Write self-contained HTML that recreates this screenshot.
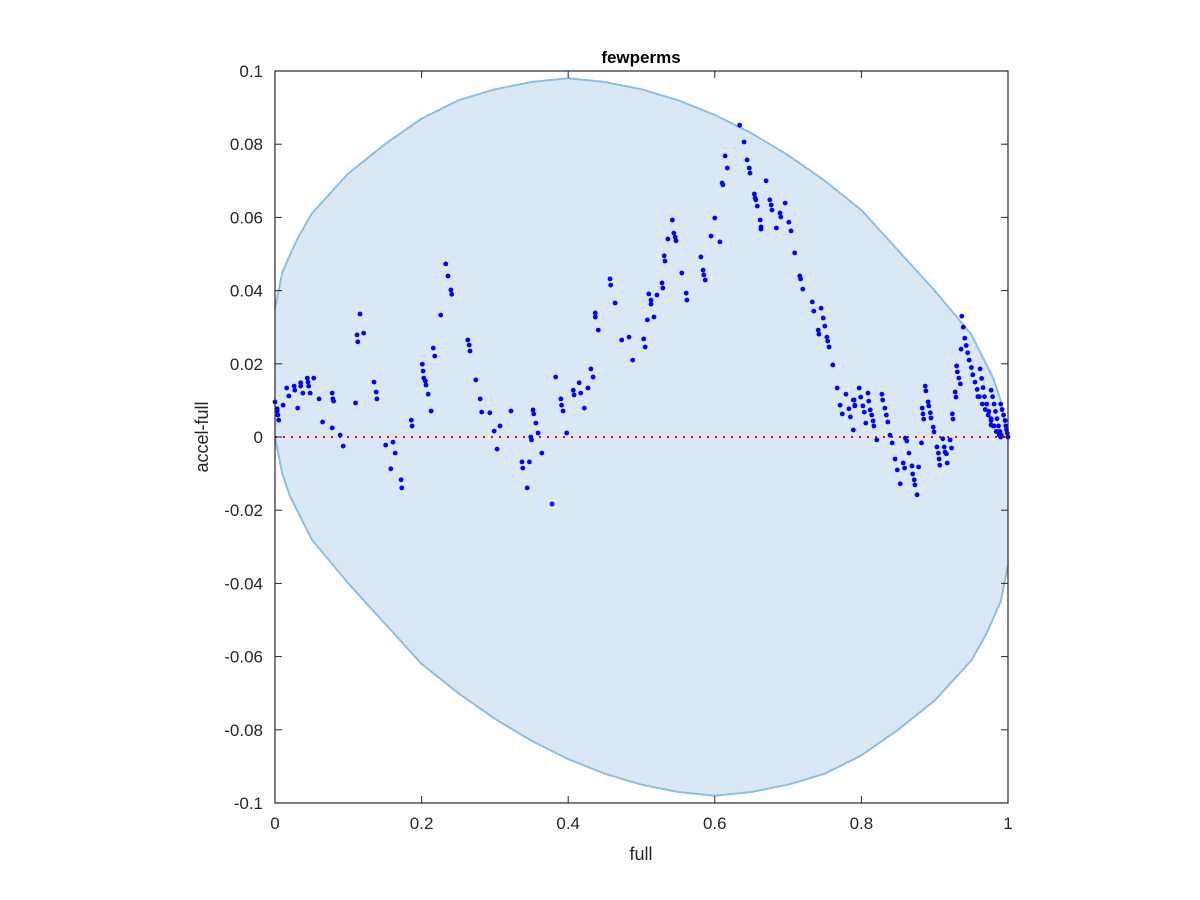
<!DOCTYPE html>
<html><head><meta charset="utf-8"><style>
html,body{margin:0;padding:0;background:#fff;}
svg{display:block;font-family:"Liberation Sans",sans-serif;}
</style></head><body>
<svg id="chart" width="1200" height="900" viewBox="0 0 1200 900" xmlns="http://www.w3.org/2000/svg">
<rect width="1200" height="900" fill="#fff"/>
<g id="plot"></g>
<text x="641" y="63" font-size="17" font-weight="bold" text-anchor="middle">fewperms</text>
<text x="641" y="860" font-size="18" text-anchor="middle" fill="#262626">full</text>
<text x="0" y="0" font-size="18" text-anchor="middle" fill="#262626" transform="translate(208,437) rotate(-90)">accel-full</text>
</svg>
<script>
const xTicks=[0,0.2,0.4,0.6,0.8,1];
const xTickLabels=["0","0.2","0.4","0.6","0.8","1"];
const yTicks=[0.1,0.08,0.06,0.04,0.02,0,-0.02,-0.04,-0.06,-0.08,-0.1];
const yTickLabels=["0.1","0.08","0.06","0.04","0.02","0","-0.02","-0.04","-0.06","-0.08","-0.1"];
const boundX=[0,0.01,0.03,0.05,0.1,0.15,0.2,0.25,0.3,0.35,0.4,0.45,0.5,0.55,0.6,0.65,0.7,0.75,0.8,0.85,0.9,0.95,0.98,0.99,1];
const boundUpper=[0.035,0.045,0.054,0.061,0.072,0.080,0.087,0.092,0.095,0.097,0.098,0.097,0.095,0.092,0.088,0.083,0.077,0.070,0.062,0.051,0.040,0.028,0.016,0.010,0];
const ptX=[0,.003,.003,.004,.005,.011,.016,.019,.026,.027,.031,.035,.035,.038,.044,.045,.046,.048,.053,.060,.065,.078,.079,.080,.078,.089,.093,.110,.112,.113,.116,.121,.135,.138,.139,.151,.161,.158,.164,.172,.173,.186,.187,.201,.202,.203,.205,.206,.209,.213,.216,.218,.226,.233,.236,.240,.241,.263,.265,.266,.274,.280,.282,.293,.299,.303,.307,.322,.337,.338,.344,.347,.349,.350,.352,.353,.356,.359,.364,.378,.383,.390,.391,.393,.398,
.634,.640,.614,.617,.610,.611,.644,.647,.648,.670,.654,.655,.656,.658,.675,.677,.678,.696,.689,.690,.701,.704,.662,.663,.663,.684,.600,.595,.607,.542,.544,.546,.547,.536,.531,.532,.528,.529,.555,.561,.562,.581,.584,.585,.587,.510,.513,.513,.521,.508,.517,.503,.505,.457,.458,.464,.437,.437,.441,.473,.483,.488,.431,.434,.427,.415,.407,.408,.417,.422,
.709,.716,.717,.720,.733,.735,.745,.748,.750,.741,.742,.753,.754,.756,.761,.767,.779,.771,.790,.791,
.774,.783,.785,.789,.789,.791,.797,.799,.802,.804,.806,.809,.810,.812,.814,.816,.817,.821,.828,.829,.832,.834,.836,.839,.842,.846,.849,.853,.857,.859,.860,.862,.865,.869,.870,.872,.873,.876,.878,.882,.887,.888,.891,.892,.883,.884,.885,.894,.895,.898,.899,.903,.905,.906,.907,.911,.913,.914,.916,.917,.921,.923,.924,.925,.928,.929,.930,.931,.933,.935,.936,
.937,.939,.941,.943,.945,.947,.950,.952,.955,.958,.961,.965,.969,.973,.977,.981,.985,.990,
.962,.964,.966,.968,.971,.974,.977,.980,.984,.988,
.977,.979,.981,.983,.985,.987,.989,.991,
.990,.992,.994,.996,.997,.998,.999,1,.959,.977];
const ptY=[.0096,.0077,.0071,.006,.0046,.0087,.0134,.0112,.0139,.0128,.0079,.0148,.0139,.012,.0161,.015,.0139,.012,.0161,.0104,.0041,.012,.0104,.0098,.0025,.0005,-.0025,.0093,.0279,.026,.0336,.0284,.015,.0123,.0104,-.0022,-.0014,-.0087,-.0044,-.0117,-.0139,.0046,.003,.0199,.018,.0161,.0153,.0142,.0117,.0071,.0243,.0221,.0333,.0473,.044,.0402,.039,.0265,.0251,.0235,.0156,.0104,.0068,.0066,.0016,-.0033,.003,.0071,-.0068,-.0085,-.0139,-.0068,0,-.0008,.0074,.0063,.0038,.0011,-.0044,-.0183,.0164,.0104,.0087,.0071,.0011,
.0852,.0806,.0768,.0735,.0694,.0689,.0757,.0735,.0721,.07,.0664,.0653,.0648,.0631,.0648,.0634,.062,.0639,.0612,.0601,.0587,.0563,.0593,.0574,.0568,.0571,.0598,.0549,.0533,.0593,.0557,.0546,.0536,.0541,.0495,.0481,.0421,.0407,.0448,.0393,.0374,.0492,.0456,.0443,.0429,.0391,.0374,.0363,.0388,.032,.0328,.0268,.0246,.0432,.0415,.0366,.0339,.0328,.0292,.0265,.0273,.021,.0186,.0164,.0134,.0148,.0128,.0115,.012,.0079,
.0503,.044,.0432,.0404,.0369,.0344,.0352,.0325,.0303,.0292,.0281,.0273,.0262,.0246,.0197,.0134,.0117,.0087,.0101,.0085,
.0063,.0077,.0055,.0019,.0101,.0087,.0134,.0109,.0085,.0068,.0038,.012,.0098,.0074,.006,.0044,.003,-.0008,.0117,.0101,.0079,.006,.0041,.0005,-.0016,-.006,-.009,-.0128,-.0071,-.0085,-.0003,-.0011,-.0044,-.0079,-.0101,-.0117,-.0131,-.0158,-.0082,-.0016,.0139,.0126,.0096,.0085,.0079,.0063,.0049,.0066,.0052,.0027,.0014,-.0027,-.0044,-.006,-.0077,-.0005,-.0027,-.0041,-.0046,-.0071,-.0008,-.003,.0063,.0049,.0123,.0109,.0194,.0178,.0161,.0145,.024,
.033,.030,.027,.025,.023,.021,.019,.017,.015,.013,.011,.009,.0075,.006,.0045,.003,.0015,0,
.0186,.016,.0135,.011,.009,.007,.005,.003,.0015,.0005,
.0128,.011,.009,.007,.005,.003,.0015,.0005,
.009,.0075,.006,.0045,.003,.002,.001,0,.011,.0033];

const NS="http://www.w3.org/2000/svg";
const X0=275,X1=1008,Y0=803,Y1=71;
function sx(v){return X0+(X1-X0)*v;}
function sy(v){return Y0-(Y0-Y1)*(v+0.1)/0.2;}
const plot=document.getElementById('plot');
function mk(tag,attrs,parent){const e=document.createElementNS(NS,tag);for(const k in attrs)e.setAttribute(k,attrs[k]);(parent||plot).appendChild(e);return e;}

// boundary region
let up=boundX.map((x,i)=>sx(x).toFixed(1)+','+sy(boundUpper[i]).toFixed(1));
let lo=boundX.map((x,i)=>sx(1-x).toFixed(1)+','+sy(-boundUpper[i]).toFixed(1));
const region=mk('polygon',{points:up.concat(lo).join(' '),fill:'#d9e8f4',stroke:'none'});


const upLine=mk('polyline',{points:up.join(' '),fill:'none',stroke:'#8cbfe2','stroke-width':2});


const loLine=mk('polyline',{points:lo.join(' '),fill:'none',stroke:'#8cbfe2','stroke-width':2});



// zero line
const zl=mk('line',{x1:sx(0),x2:sx(1),y1:sy(0),y2:sy(0),stroke:'#ff0000','stroke-width':2,'stroke-dasharray':'2,6'});



// points
ptX.forEach((x,i)=>{
  const c=mk('circle',{cx:sx(x).toFixed(1),cy:sy(ptY[i]).toFixed(1),r:2.4,fill:'#0000ff'});
  
  
});

// axes box
const box=mk('rect',{x:X0,y:Y1,width:X1-X0,height:Y0-Y1,fill:'none',stroke:'#262626','stroke-width':1.2});



xTicks.forEach((v,i)=>{
  const x=sx(v);
  const t1=mk('line',{x1:x,x2:x,y1:Y0,y2:Y0-7,stroke:'#262626'});
  
  
  const t2=mk('line',{x1:x,x2:x,y1:Y1,y2:Y1+7,stroke:'#262626'});
  
  
  const tx=mk('text',{x:x,y:Y0+26,'font-size':17,'text-anchor':'middle',fill:'#262626'});
  tx.textContent=xTickLabels[i];
  
  
});
yTicks.forEach((v,i)=>{
  const y=sy(v);
  const t1=mk('line',{x1:X0,x2:X0+7,y1:y,y2:y,stroke:'#262626'});
  
  
  const t2=mk('line',{x1:X1,x2:X1-7,y1:y,y2:y,stroke:'#262626'});
  
  
  const tx=mk('text',{x:X0-12,y:y+6,'font-size':17,'text-anchor':'end',fill:'#262626'});
  tx.textContent=yTickLabels[i];
  
  
});
</script>
</body></html>
